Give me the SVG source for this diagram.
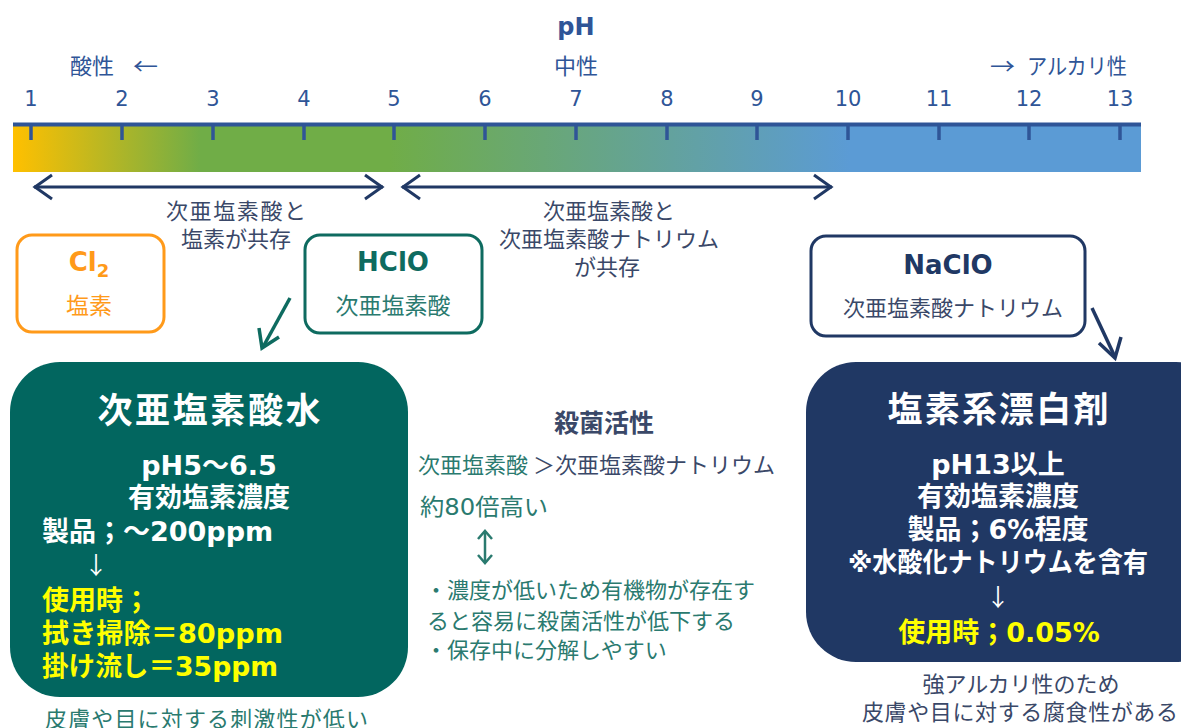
<svg xmlns="http://www.w3.org/2000/svg" width="1181" height="728" viewBox="0 0 1181 728">
<defs>
<linearGradient id="phg" gradientUnits="userSpaceOnUse" x1="13" y1="0" x2="1141" y2="0">
<stop offset="0" stop-color="#FFC000"/>
<stop offset="0.166" stop-color="#70AD47"/>
<stop offset="0.334" stop-color="#70AD47"/>
<stop offset="0.742" stop-color="#5B9BD5"/>
<stop offset="1" stop-color="#5B9BD5"/>
</linearGradient>
<style>
.jp{font-family:"Noto Sans CJK JP","Noto Sans",sans-serif}
.mx{font-family:"DejaVu Sans","Noto Sans CJK JP",sans-serif}
.num{font-family:"DejaVu Sans","Liberation Sans",sans-serif;font-size:21px;fill:#2F5597;text-anchor:middle}
.blue{fill:#2F5597}
.navy{fill:#3A4868}
.teal{fill:#2A7A6F}
.b{font-weight:bold}
.w{fill:#FFFFFF}
.y{fill:#FFFF00}
.mid{text-anchor:middle}
.tick{stroke:#2F5597;stroke-width:3.5}
.dbl{stroke:#203864;stroke-width:3;fill:none}
</style>
</defs>
<rect width="1181" height="728" fill="#FFFFFF"/>

<g id="scale">
<text x="576" y="35" class="b blue mid mx" font-size="24">pH</text>
<text x="70" y="74" class="jp blue" font-size="22">酸性</text>
<text x="133" y="74" class="jp blue" font-size="22" textLength="25" lengthAdjust="spacingAndGlyphs">←</text>
<text x="576" y="74" class="jp blue mid" font-size="22">中性</text>
<text x="990" y="74" class="jp blue" font-size="22" textLength="25" lengthAdjust="spacingAndGlyphs">→</text>
<text x="1027" y="74" class="jp blue" font-size="22" textLength="100" lengthAdjust="spacingAndGlyphs">アルカリ性</text>
<text x="31" y="106" class="num">1</text>
<text x="122" y="106" class="num">2</text>
<text x="213" y="106" class="num">3</text>
<text x="304" y="106" class="num">4</text>
<text x="394" y="106" class="num">5</text>
<text x="485" y="106" class="num">6</text>
<text x="576" y="106" class="num">7</text>
<text x="667" y="106" class="num">8</text>
<text x="757" y="106" class="num">9</text>
<text x="848" y="106" class="num">10</text>
<text x="939" y="106" class="num">11</text>
<text x="1029" y="106" class="num">12</text>
<text x="1120" y="106" class="num">13</text>
<rect x="13" y="124" width="1128" height="48" fill="url(#phg)"/>
<line x1="13" y1="124.5" x2="1141" y2="124.5" stroke="#2F5597" stroke-width="4"/>
<g class="tick">
<line x1="31" y1="124" x2="31" y2="140"/>
<line x1="122" y1="124" x2="122" y2="140"/>
<line x1="213" y1="124" x2="213" y2="140"/>
<line x1="304" y1="124" x2="304" y2="140"/>
<line x1="394" y1="124" x2="394" y2="140"/>
<line x1="485" y1="124" x2="485" y2="140"/>
<line x1="576" y1="124" x2="576" y2="140"/>
<line x1="667" y1="124" x2="667" y2="140"/>
<line x1="757" y1="124" x2="757" y2="140"/>
<line x1="848" y1="124" x2="848" y2="140"/>
<line x1="939" y1="124" x2="939" y2="140"/>
<line x1="1029" y1="124" x2="1029" y2="140"/>
<line x1="1120" y1="124" x2="1120" y2="140"/>
</g>
</g>

<g id="ranges">
<line x1="34" y1="187" x2="383" y2="187" class="dbl"/>
<polyline points="52,175 35,187 52,199" class="dbl"/>
<polyline points="365,175 382,187 365,199" class="dbl"/>
<line x1="402" y1="187" x2="832" y2="187" class="dbl"/>
<polyline points="420,175 403,187 420,199" class="dbl"/>
<polyline points="814,175 831,187 814,199" class="dbl"/>
<text x="236" y="219" class="jp navy mid" font-size="22" textLength="140" lengthAdjust="spacing">次亜塩素酸と</text>
<text x="236" y="247" class="jp navy mid" font-size="22">塩素が共存</text>
<text x="609" y="219" class="jp navy mid" font-size="22">次亜塩素酸と</text>
<text x="609" y="247" class="jp navy mid" font-size="22">次亜塩素酸ナトリウム</text>
<text x="607" y="275" class="jp navy mid" font-size="22">が共存</text>
</g>

<g id="cl2">
<rect x="17" y="235" width="147" height="97" rx="15" fill="#FFFFFF" stroke="#FF9A1A" stroke-width="3"/>
<text x="89" y="271" class="b mid mx" font-size="26" fill="#FF9A1A">Cl<tspan font-size="18" dy="6">2</tspan></text>
<text x="89" y="314" class="jp mid" font-size="23" fill="#FF9A1A">塩素</text>
</g>

<g id="hclo">
<rect x="305" y="235" width="177" height="98" rx="15" fill="#FFFFFF" stroke="#0E6B60" stroke-width="3"/>
<text x="393" y="271" class="b mid mx" font-size="26" fill="#0E6B60">HClO</text>
<text x="393" y="314" class="jp mid" font-size="23" fill="#2A7A6F">次亜塩素酸</text>
</g>

<g id="naclo">
<rect x="811" y="236" width="274" height="100" rx="15" fill="#FFFFFF" stroke="#203864" stroke-width="3"/>
<text x="948" y="274" class="b mid mx" font-size="26" fill="#203864">NaClO</text>
<text x="953" y="316" class="jp mid navy" font-size="22">次亜塩素酸ナトリウム</text>
</g>

<g id="connectors">
<line x1="290" y1="298" x2="263" y2="347" stroke="#0E6B60" stroke-width="3.5"/>
<polyline points="259,328 262,348 279,337" fill="none" stroke="#0E6B60" stroke-width="3.5"/>
<line x1="1092" y1="308" x2="1115" y2="357" stroke="#203864" stroke-width="3.5"/>
<polyline points="1099,343 1115,358 1121,337" fill="none" stroke="#203864" stroke-width="3.5"/>
</g>

<g id="water">
<rect x="10" y="362" width="398" height="335" rx="50" fill="#02665F"/>
<text x="209" y="423" class="jp b w mid" font-size="35" textLength="223" lengthAdjust="spacing">次亜塩素酸水</text>
<text x="209" y="475" class="mx b w mid" font-size="27">pH5～6.5</text>
<text x="209" y="507" class="mx b w mid" font-size="27">有効塩素濃度</text>
<text x="42" y="541" class="mx b w" font-size="27">製品；～200ppm</text>
<text x="84" y="574" class="jp w" font-size="24">↓</text>
<text x="42" y="610" class="mx b y" font-size="27">使用時；</text>
<text x="42" y="643" class="mx b y" font-size="27" textLength="241" lengthAdjust="spacingAndGlyphs">拭き掃除＝80ppm</text>
<text x="42" y="676" class="mx b y" font-size="27" textLength="236" lengthAdjust="spacingAndGlyphs">掛け流し＝35ppm</text>
<text x="45" y="727" class="jp teal" font-size="22" textLength="323" lengthAdjust="spacing">皮膚や目に対する刺激性が低い</text>
</g>

<g id="activity">
<text x="604" y="432" class="jp b mid" font-size="25" fill="#3A4868">殺菌活性</text>
<text x="418" y="473" class="jp teal" font-size="22">次亜塩素酸 <tspan class="navy">＞</tspan><tspan class="navy">次亜塩素酸ナトリウム</tspan></text>
<text x="420" y="515" class="mx teal" font-size="23" textLength="128" lengthAdjust="spacingAndGlyphs">約80倍高い</text>
<g stroke="#2A7A6F" stroke-width="2.5" fill="none">
<line x1="485" y1="531" x2="485" y2="563"/>
<polyline points="478,539 485,531 492,539"/>
<polyline points="478,555 485,563 492,555"/>
</g>
<text x="425" y="598" class="jp teal" font-size="22">・濃度が低いため有機物が存在す</text>
<text x="427" y="629" class="jp teal" font-size="22">ると容易に殺菌活性が低下する</text>
<text x="425" y="658" class="jp teal" font-size="22">・保存中に分解しやすい</text>
</g>

<g id="bleach">
<rect x="806" y="362" width="420" height="300" rx="50" fill="#203864"/>
<text x="998" y="422" class="jp b w mid" font-size="35" textLength="221" lengthAdjust="spacing">塩素系漂白剤</text>
<text x="998" y="474" class="mx b w mid" font-size="27">pH13以上</text>
<text x="998" y="506" class="mx b w mid" font-size="27">有効塩素濃度</text>
<text x="998" y="539" class="mx b w mid" font-size="27">製品；6%程度</text>
<text x="998" y="572" class="mx b w mid" font-size="27" textLength="300" lengthAdjust="spacingAndGlyphs">※水酸化ナトリウムを含有</text>
<text x="998" y="606" class="jp w mid" font-size="24">↓</text>
<text x="999" y="642" class="mx b y mid" font-size="27">使用時；0.05%</text>
<text x="1021" y="692" class="jp navy mid" font-size="22">強アルカリ性のため</text>
<text x="1020" y="720" class="jp navy mid" font-size="22" textLength="316" lengthAdjust="spacing">皮膚や目に対する腐食性がある</text>
</g>
</svg>
